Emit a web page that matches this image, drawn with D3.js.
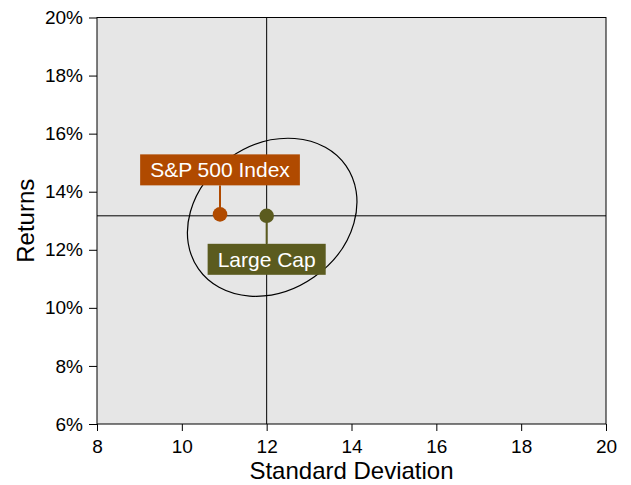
<!DOCTYPE html>
<html>
<head>
<meta charset="utf-8">
<script src="https://cdn.jsdelivr.net/npm/d3@7"></script>
<style>
  html, body { margin: 0; padding: 0; background: #ffffff; }
  svg { display: block; font-family: Arial, "Liberation Sans", Helvetica, sans-serif; }
</style>
</head>
<body>
<svg id="chart" width="631" height="485"></svg>
<script>
// ---- data ----
const seriesNames = ["S&P 500 Index", "Large Cap"];
const stdDev = [10.9, 12.0];
const returns = [13.22, 13.17];
const seriesColors = ["#B04A00", "#5B5B1F"];
const labelPlacement = ["above", "below"];
const xTicks = [8, 10, 12, 14, 16, 18, 20];
const yTicks = [6, 8, 10, 12, 14, 16, 18, 20];
const crosshair = [12.0, 13.17];           // [stdDev, return]
const ellipseCenter = [12.13, 13.12];      // [stdDev, return]

// ---- layout ----
const W = 631, H = 485;
const margin = { left: 97, right: 25, top: 17.5, bottom: 61 };
const svg = d3.select("#chart");
const x = d3.scaleLinear().domain([8, 20]).range([margin.left, W - margin.right]);
const y = d3.scaleLinear().domain([6, 20]).range([H - margin.bottom, margin.top]);

// plot background
svg.append("rect")
  .attr("x", x(8)).attr("y", y(20))
  .attr("width", x(20) - x(8)).attr("height", y(6) - y(20))
  .attr("fill", "#e6e6e6").attr("stroke", "#000").attr("stroke-width", 1);

// axes
const xAxis = svg.append("g")
  .attr("transform", `translate(0,${y(6)})`)
  .call(d3.axisBottom(x).tickValues(xTicks).tickFormat(d3.format("d")).tickSize(7).tickPadding(9));
const yAxis = svg.append("g")
  .attr("transform", `translate(${x(8)},0)`)
  .call(d3.axisLeft(y).tickValues(yTicks).tickFormat(d => d + "%").tickSize(8).tickPadding(6));
[xAxis, yAxis].forEach(g => {
  g.select(".domain").remove();
  g.selectAll("line").attr("stroke", "#000");
  g.selectAll("text").attr("fill", "#000").style("font-size", "19px")
    .style("font-family", "Arial, 'Liberation Sans', sans-serif");
});

// crosshair lines
svg.append("line")
  .attr("x1", x(crosshair[0])).attr("x2", x(crosshair[0]))
  .attr("y1", y(20)).attr("y2", y(6))
  .attr("stroke", "#000").attr("stroke-width", 1);
svg.append("line")
  .attr("x1", x(8)).attr("x2", x(20))
  .attr("y1", y(crosshair[1])).attr("y2", y(crosshair[1]))
  .attr("stroke", "#000").attr("stroke-width", 1);

// ellipse
svg.append("ellipse")
  .attr("cx", 0).attr("cy", 0)
  .attr("rx", 90).attr("ry", 73)
  .attr("transform", `translate(${x(ellipseCenter[0])},${y(ellipseCenter[1])}) rotate(-35)`)
  .attr("fill", "none").attr("stroke", "#000").attr("stroke-width", 1.2);

// points with labels
const pts = seriesNames.map((n, i) => ({ name: n, sd: stdDev[i], ret: returns[i], color: seriesColors[i], place: labelPlacement[i] }));
const boxH = 31, padX = 10, gapAbove = 29, gapBelow = 28;

pts.forEach(p => {
  const px = x(p.sd), py = y(p.ret);
  const g = svg.append("g");
  const t = g.append("text")
    .attr("x", px)
    .attr("text-anchor", "middle")
    .attr("fill", "#fff")
    .style("font-size", "21px")
    .text(p.name);
  const tw = t.node().getComputedTextLength();
  const boxTop = p.place === "above" ? py - gapAbove - boxH : py + gapBelow;
  g.insert("line", "text")
    .attr("x1", px).attr("x2", px)
    .attr("y1", py)
    .attr("y2", p.place === "above" ? boxTop + boxH : boxTop)
    .attr("stroke", p.color).attr("stroke-width", 2);
  g.insert("rect", "text")
    .attr("x", px - tw / 2 - padX).attr("y", boxTop)
    .attr("width", tw + 2 * padX).attr("height", boxH)
    .attr("fill", p.color);
  t.attr("y", boxTop + boxH / 2 + 7.5);
  g.append("circle")
    .attr("cx", px).attr("cy", py).attr("r", 7.3)
    .attr("fill", p.color);
});

// axis titles
svg.append("text")
  .attr("x", (x(8) + x(20)) / 2).attr("y", 479)
  .attr("text-anchor", "middle").attr("fill", "#000")
  .style("font-size", "24px")
  .text("Standard Deviation");
svg.append("text")
  .attr("transform", `translate(34,${(y(6) + y(20)) / 2}) rotate(-90)`)
  .attr("text-anchor", "middle").attr("fill", "#000")
  .style("font-size", "24px")
  .text("Returns");
</script>
</body>
</html>
